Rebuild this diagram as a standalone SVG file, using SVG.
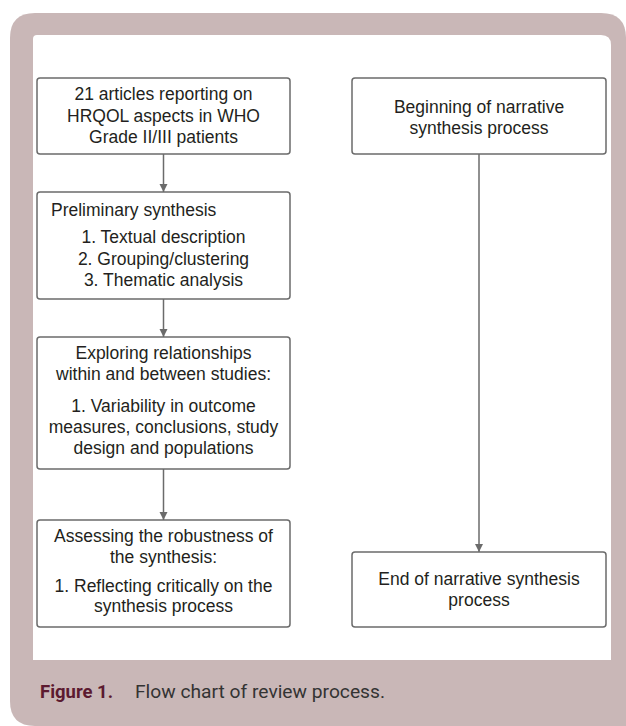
<svg xmlns="http://www.w3.org/2000/svg" width="626" height="726" viewBox="0 0 626 726">
<style>
.box{fill:#fff;stroke:#6b6b6b;stroke-width:1.5}
.t{font-family:"Liberation Sans",Arial,sans-serif;font-size:17.5px;fill:#231f20;text-anchor:middle}
.l{text-anchor:start}
.conn{stroke:#6b6b6b;stroke-width:1.5;fill:none}
</style>
<defs>
<marker id="ah" viewBox="0 0 8 10" refX="8" refY="5" markerWidth="8" markerHeight="10" markerUnits="userSpaceOnUse" orient="auto">
<path d="M0,1 L8,5 L0,9 Z" fill="#6b6b6b" transform="rotate(0)"/>
</marker>
</defs>
<path d="M10,38 Q10,13 35,13 L601,13 Q626,13 626,38 L626,726 L35,726 Q10,726 10,701 Z" fill="#c9b7b7"/>
<path d="M33,39 Q33,35 37,35 L601,35 Q611,35 611,45 L611,660 L33,660 Z" fill="#fff"/>
<g id="n1">
<rect class="box" x="37" y="78" width="253" height="76" rx="3"/>
<text class="t" x="163.5" y="100">21 articles reporting on</text>
<text class="t" x="163.5" y="121.5">HRQOL aspects in WHO</text>
<text class="t" x="163.5" y="143">Grade II/III patients</text>
</g>
<g id="n2">
<rect class="box" x="37" y="192" width="253" height="107" rx="3"/>
<text class="t l" x="51" y="216">Preliminary synthesis</text>
<text class="t" x="163.5" y="243">1. Textual description</text>
<text class="t" x="163.5" y="264.5">2. Grouping/clustering</text>
<text class="t" x="163.5" y="286">3. Thematic analysis</text>
</g>
<g id="n3">
<rect class="box" x="37" y="337" width="253" height="132" rx="3"/>
<text class="t" x="163.5" y="359">Exploring relationships</text>
<text class="t" x="163.5" y="380">within and between studies:</text>
<text class="t" x="163.5" y="412">1. Variability in outcome</text>
<text class="t" x="163.5" y="433">measures, conclusions, study</text>
<text class="t" x="163.5" y="454">design and populations</text>
</g>
<g id="n4">
<rect class="box" x="37" y="520" width="253" height="107" rx="3"/>
<text class="t" x="163.5" y="542">Assessing the robustness of</text>
<text class="t" x="163.5" y="563">the synthesis:</text>
<text class="t" x="163.5" y="592">1. Reflecting critically on the</text>
<text class="t" x="163.5" y="612">synthesis process</text>
</g>
<g id="r1">
<rect class="box" x="352" y="78" width="254" height="76" rx="3"/>
<text class="t" x="479" y="113">Beginning of narrative</text>
<text class="t" x="479" y="134">synthesis process</text>
</g>
<g id="r2">
<rect class="box" x="352" y="552" width="254" height="75" rx="3"/>
<text class="t" x="479" y="585">End of narrative synthesis</text>
<text class="t" x="479" y="606">process</text>
</g>
<g id="connectors">
<line class="conn" x1="163.5" y1="154" x2="163.5" y2="192" marker-end="url(#ah)"/>
<line class="conn" x1="163.5" y1="299" x2="163.5" y2="337" marker-end="url(#ah)"/>
<line class="conn" x1="163.5" y1="469" x2="163.5" y2="520" marker-end="url(#ah)"/>
<line class="conn" x1="479" y1="154" x2="479" y2="552" marker-end="url(#ah)"/>
</g>
<g id="caption">
<text x="40" y="698" font-family="Roboto,'Liberation Sans',sans-serif" font-weight="bold" font-size="18" fill="#5c1a30" textLength="73" lengthAdjust="spacingAndGlyphs">Figure 1.</text>
<text x="135" y="698" font-family="Roboto,'Liberation Sans',sans-serif" font-size="18" fill="#333" textLength="250" lengthAdjust="spacingAndGlyphs">Flow chart of review process.</text>
</g>
</svg>
